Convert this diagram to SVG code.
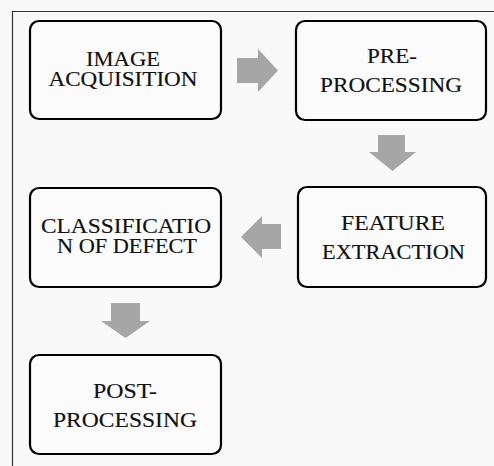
<svg xmlns="http://www.w3.org/2000/svg" width="494" height="466" viewBox="0 0 494 466">
<style>
.box{fill:#fbfbfb;stroke:#000;stroke-width:2.2}
.t{font-family:'Liberation Serif','Times New Roman',serif;font-size:20px;fill:#111;stroke:#111;stroke-width:0.15;text-anchor:middle}
.arr{fill:#a6a6a6}
.frame{stroke:#333;stroke-width:1.2;fill:none}
</style>
<rect x="0" y="0" width="494" height="466" fill="#f9f9f9"/>
<path class="frame" d="M12.5,466 V11.5 H494"/>
<g id="n1">
<rect class="box" x="30" y="21" width="191" height="98" rx="9"/>
<text class="t" x="123" y="66" textLength="74" lengthAdjust="spacingAndGlyphs">IMAGE</text>
<text class="t" x="123" y="86" textLength="149" lengthAdjust="spacingAndGlyphs">ACQUISITION</text>
</g>
<g id="n2">
<rect class="box" x="296" y="21" width="190" height="99" rx="9"/>
<text class="t" x="392" y="63" textLength="50" lengthAdjust="spacingAndGlyphs">PRE-</text>
<text class="t" x="391" y="92" textLength="142" lengthAdjust="spacingAndGlyphs">PROCESSING</text>
</g>
<g id="n3">
<rect class="box" x="298" y="187" width="188" height="100" rx="9"/>
<text class="t" x="393" y="230" textLength="104" lengthAdjust="spacingAndGlyphs">FEATURE</text>
<text class="t" x="393.5" y="259" textLength="143" lengthAdjust="spacingAndGlyphs">EXTRACTION</text>
</g>
<g id="n4">
<rect class="box" x="30" y="188" width="191" height="99" rx="9"/>
<text class="t" x="126" y="233" textLength="170" lengthAdjust="spacingAndGlyphs">CLASSIFICATIO</text>
<text class="t" x="127" y="253" textLength="140" lengthAdjust="spacingAndGlyphs">N OF DEFECT</text>
</g>
<g id="n5">
<rect class="box" x="30" y="355" width="191" height="99" rx="9"/>
<text class="t" x="125" y="398" textLength="64" lengthAdjust="spacingAndGlyphs">POST-</text>
<text class="t" x="125" y="427" textLength="144" lengthAdjust="spacingAndGlyphs">PROCESSING</text>
</g>
<g id="connectors">
<polygon class="arr" points="237,58 258,58 258,49 278,70.5 258,92 258,83 237,83"/>
<polygon class="arr" points="378,135 405,135 405,152 416,152 392.5,171 369,152 378,152"/>
<polygon class="arr" points="281,224 262,224 262,216 241,237 262,258 262,249 281,249"/>
<polygon class="arr" points="111,303 140,303 140,321 150,321 125.5,338 101,321 111,321"/>
</g>
</svg>
